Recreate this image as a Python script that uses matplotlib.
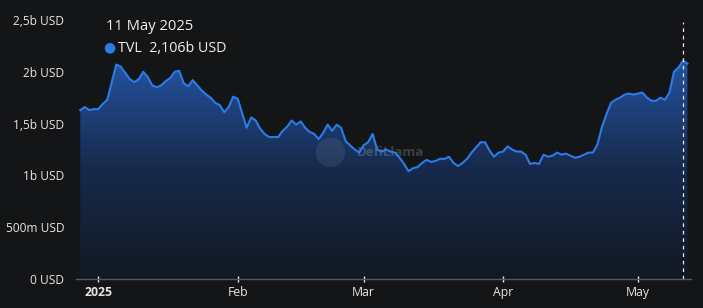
import matplotlib.pyplot as plt
import matplotlib.dates as mdates
import numpy as np
import pandas as pd
from matplotlib.colors import LinearSegmentedColormap

# TVL in billions USD, daily from 28 Dec 2024
start_date = '2024-12-28'
tvl = [
    1.63, 1.66, 1.63, 1.64, 1.64, 1.69, 1.73, 1.90, 2.07, 2.05,
    1.99, 1.93, 1.90, 1.93, 2.00, 1.95, 1.87, 1.85, 1.87, 1.91,
    1.94, 2.00, 2.01, 1.89, 1.86, 1.92, 1.87, 1.82, 1.78, 1.75,
    1.70, 1.68, 1.61, 1.66, 1.76, 1.74, 1.60, 1.46, 1.56, 1.53,
    1.45, 1.40, 1.37, 1.37, 1.37, 1.43, 1.47, 1.53, 1.49, 1.52,
    1.46, 1.42, 1.40, 1.35, 1.41, 1.49, 1.43, 1.49, 1.46, 1.33,
    1.29, 1.25, 1.22, 1.29, 1.32, 1.40, 1.25, 1.23, 1.25, 1.23,
    1.22, 1.17, 1.11, 1.04, 1.07, 1.08, 1.12, 1.15, 1.13, 1.14,
    1.16, 1.16, 1.18, 1.12, 1.09, 1.12, 1.16, 1.22, 1.27, 1.32,
    1.32, 1.24, 1.18, 1.22, 1.23, 1.28, 1.25, 1.23, 1.23, 1.20,
    1.11, 1.12, 1.11, 1.20, 1.18, 1.19, 1.22, 1.20, 1.21, 1.19,
    1.17, 1.18, 1.20, 1.22, 1.22, 1.30, 1.47, 1.59, 1.70, 1.73,
    1.75, 1.78, 1.79, 1.78, 1.79, 1.80, 1.75, 1.72, 1.72, 1.75,
    1.73, 1.80, 2.00, 2.04, 2.106, 2.08,
]
dates = pd.date_range(start_date, periods=len(tvl), freq='D')

y_ticks = [0, 0.5, 1, 1.5, 2, 2.5]
y_labels = ['0 USD', '500m USD', '1b USD', '1,5b USD', '2b USD', '2,5b USD']
x_ticks = ['2025-01-01', '2025-02-01', '2025-03-01', '2025-04-01', '2025-05-01']
x_labels = ['2025', 'Feb', 'Mar', 'Apr', 'May']
hover_date = '2025-05-11'
hover_title = '11 May 2025'
hover_value = 'TVL  2,106b USD'

bg = '#141517'
line_col = '#2b7be8'
plt.rcParams['font.family'] = ['Open Sans', 'DejaVu Sans']

fig = plt.figure(figsize=(7.03, 3.08), dpi=100, facecolor=bg)
ax = fig.add_axes([75.6 / 703, 29 / 308, (691 - 75.6) / 703, 259 / 308])
ax.set_facecolor(bg)

x = mdates.date2num(dates)
y = np.array(tvl)

# gradient fill under the line
cmap = LinearSegmentedColormap.from_list('g', ['#121824', '#172a4d', '#2455a3'])
grad = np.linspace(0, 1, 256).reshape(-1, 1)
im = ax.imshow(grad, aspect='auto', cmap=cmap, origin='lower',
               extent=[x[0], x[-1], 0, 2.15], zorder=1)
poly = ax.fill_between(x, y, 0, color='none', lw=0)
im.set_clip_path(poly.get_paths()[0], transform=ax.transData)
ax.plot(x, y, color=line_col, lw=1.5, zorder=3, solid_joinstyle='round')

ax.set_xlim(mdates.datestr2num('2024-12-26 23:00'), mdates.datestr2num('2025-05-12 19:00'))
ax.set_ylim(0, 2.5)

# hover marker line
hx = mdates.datestr2num(hover_date)
ax.plot([hx, hx], [0, 2.48], color='#e8e8e8', lw=0.9, ls=(0, (3, 3)), zorder=4)

for s in ['top', 'right', 'left']:
    ax.spines[s].set_visible(False)
ax.spines['bottom'].set_color('#55585c')
ax.spines['bottom'].set_linewidth(1)

ax.set_yticks(y_ticks)
ax.set_yticklabels(y_labels)
ax.tick_params(axis='y', length=0, pad=8, labelsize=8.6, labelcolor='#e6e6e6')
ax.set_xticks([mdates.datestr2num(d) for d in x_ticks])
ax.set_xticklabels(x_labels)
ax.tick_params(axis='x', length=4, width=1, color='#e6e6e6', pad=3,
               labelsize=8.8, labelcolor='#e6e6e6', direction='inout')
ax.get_xticklabels()[0].set_fontweight('bold')

# watermark
ax.text(0.457, 0.49, 'DefiLlama', transform=ax.transAxes, fontsize=9.5,
        fontweight='bold', color='#ffffff', alpha=0.18, ha='left', va='center', zorder=2)
ax.scatter([0.413], [0.49], s=450, transform=ax.transAxes, color='#ffffff',
           alpha=0.08, zorder=2, lw=0)

# tooltip
fig.text(106 / 703, 1 - 27 / 308, hover_title, fontsize=10.6, color='#f0f0f0', va='center')
fig.text(103 / 703, 1 - 48 / 308, '\u25cf', fontsize=10, color=line_col, va='center')
fig.text(118 / 703, 1 - 48 / 308, hover_value, fontsize=10.3, color='#f0f0f0', va='center')

fig.savefig('out.png', dpi=100, facecolor=bg)
